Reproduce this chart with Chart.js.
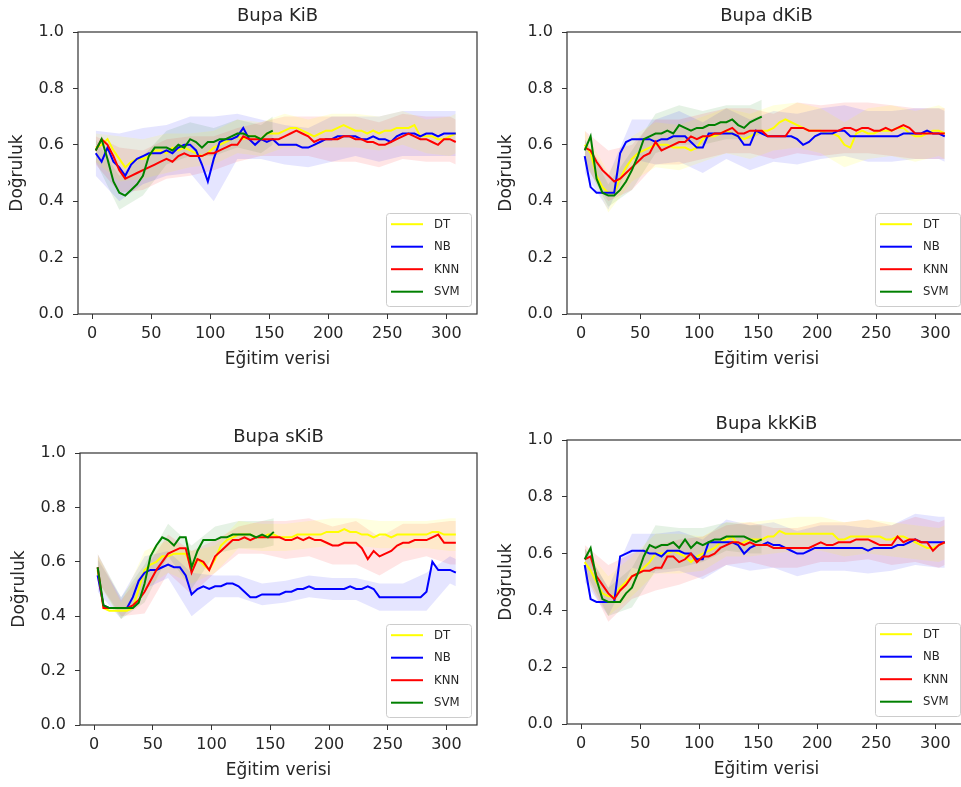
<!DOCTYPE html>
<html>
<head>
<meta charset="utf-8">
<script src="https://cdn.jsdelivr.net/npm/chart.js@4.4.1/dist/chart.umd.min.js"></script>
<style>
  body { margin: 0; background: #fff; width: 961px; height: 787px; overflow: hidden; position: relative; }
  canvas { position: absolute; }
</style>
</head>
<body>
<canvas id="c0"></canvas>
<canvas id="c1"></canvas>
<canvas id="c2"></canvas>
<canvas id="c3"></canvas>
<script>
/* ── Data ─────────────────────────────────────────── */
const xVals = [3, 8, 13, 18, 23, 28, 33, 38, 43, 48,
  53, 58, 63, 68, 73, 78, 83, 88, 93, 98,
  103, 108, 113, 118, 123, 128, 133, 138, 143, 148,
  153, 158, 163, 168, 173, 178, 183, 188, 193, 198,
  203, 208, 213, 218, 223, 228, 233, 238, 243, 248,
  253, 258, 263, 268, 273, 278, 283, 288, 293, 298,
  303, 308];
const seriesNames = ['DT', 'NB', 'KNN', 'SVM'];
const xTicks = [0, 50, 100, 150, 200, 250, 300];
const yTicks = [0, 0.2, 0.4, 0.6, 0.8, 1.0];

// Bupa KiB
const kibDT = [0.59, 0.60, 0.62, 0.58, 0.55, 0.52, 0.54, 0.55, 0.55, 0.56,
  0.58, 0.58, 0.57, 0.59, 0.58, 0.59, 0.58, 0.57, 0.56, 0.57,
  0.59, 0.60, 0.61, 0.62, 0.63, 0.62, 0.63, 0.63, 0.62, 0.64,
  0.64, 0.64, 0.65, 0.66, 0.66, 0.65, 0.64, 0.63, 0.64, 0.65,
  0.65, 0.66, 0.67, 0.66, 0.65, 0.65, 0.64, 0.65, 0.64, 0.65,
  0.65, 0.66, 0.66, 0.66, 0.67, 0.63, 0.63, 0.63, 0.62, 0.62,
  0.63, 0.64];
const kibNB = [0.57, 0.54, 0.59, 0.54, 0.52, 0.49, 0.53, 0.55, 0.56, 0.57,
  0.57, 0.57, 0.58, 0.57, 0.59, 0.60, 0.60, 0.58, 0.53, 0.47,
  0.55, 0.61, 0.62, 0.62, 0.63, 0.66, 0.62, 0.60, 0.62, 0.61,
  0.62, 0.60, 0.60, 0.60, 0.60, 0.59, 0.59, 0.60, 0.61, 0.62,
  0.62, 0.63, 0.63, 0.63, 0.63, 0.62, 0.62, 0.63, 0.62, 0.62,
  0.61, 0.63, 0.64, 0.64, 0.64, 0.63, 0.64, 0.64, 0.63, 0.64,
  0.64, 0.64];
const kibKNN = [0.58, 0.62, 0.60, 0.56, 0.51, 0.48, 0.49, 0.50, 0.51, 0.52,
  0.53, 0.54, 0.55, 0.54, 0.56, 0.57, 0.56, 0.56, 0.56, 0.57,
  0.57, 0.58, 0.59, 0.60, 0.60, 0.63, 0.62, 0.62, 0.62, 0.62,
  0.62, 0.62, 0.63, 0.64, 0.65, 0.64, 0.63, 0.61, 0.62, 0.62,
  0.62, 0.62, 0.63, 0.63, 0.62, 0.62, 0.61, 0.61, 0.60, 0.60,
  0.61, 0.62, 0.63, 0.64, 0.63, 0.62, 0.62, 0.61, 0.60, 0.62,
  0.62, 0.61];
const kibSVM = [0.58, 0.62, 0.55, 0.47, 0.43, 0.42, 0.44, 0.46, 0.49, 0.56,
  0.59, 0.59, 0.59, 0.58, 0.60, 0.59, 0.62, 0.61, 0.59, 0.61,
  0.61, 0.62, 0.62, 0.63, 0.64, 0.64, 0.63, 0.63, 0.62, 0.64,
  0.65];
const kibStdDT = [0.05, 0.08, 0.07, 0.07, 0.06, 0.06, 0.06, 0.06, 0.06, 0.05, 0.06, 0.06, 0.06, 0.06, 0.06, 0.07, 0.07];
const kibStdNB = [0.08, 0.12, 0.10, 0.09, 0.10, 0.15, 0.08, 0.07, 0.07, 0.07, 0.08, 0.07, 0.08, 0.08, 0.08, 0.08, 0.08];
const kibStdKNN = [0.05, 0.08, 0.07, 0.07, 0.07, 0.06, 0.06, 0.06, 0.07, 0.07, 0.08, 0.08, 0.08, 0.08, 0.08, 0.08, 0.08];
const kibStdSVM = [0.04, 0.06, 0.07, 0.06, 0.06, 0.05, 0.05, 0.05, 0.05];

// Bupa dKiB
const dkibDT = [0.60, 0.57, 0.49, 0.45, 0.43, 0.43, 0.48, 0.52, 0.55, 0.57,
  0.58, 0.59, 0.60, 0.60, 0.60, 0.59, 0.59, 0.59, 0.58, 0.59,
  0.62, 0.63, 0.63, 0.64, 0.65, 0.64, 0.63, 0.62, 0.63, 0.64,
  0.65, 0.65, 0.66, 0.68, 0.69, 0.68, 0.67, 0.66, 0.65, 0.65,
  0.65, 0.64, 0.64, 0.63, 0.60, 0.59, 0.64, 0.65, 0.64, 0.64,
  0.65, 0.65, 0.65, 0.66, 0.66, 0.64, 0.63, 0.63, 0.64, 0.65,
  0.65, 0.64];
const dkibNB = [0.56, 0.45, 0.43, 0.43, 0.43, 0.43, 0.57, 0.61, 0.62, 0.62,
  0.62, 0.62, 0.61, 0.62, 0.62, 0.63, 0.63, 0.63, 0.61, 0.59,
  0.59, 0.64, 0.64, 0.64, 0.64, 0.64, 0.63, 0.60, 0.60, 0.65,
  0.64, 0.63, 0.63, 0.63, 0.63, 0.63, 0.62, 0.60, 0.61, 0.63,
  0.64, 0.64, 0.64, 0.65, 0.65, 0.63, 0.63, 0.63, 0.63, 0.63,
  0.63, 0.63, 0.63, 0.63, 0.64, 0.64, 0.64, 0.64, 0.65, 0.64,
  0.64, 0.63];
const dkibKNN = [0.59, 0.58, 0.54, 0.51, 0.49, 0.47, 0.48, 0.50, 0.52, 0.54,
  0.56, 0.57, 0.61, 0.58, 0.59, 0.60, 0.61, 0.61, 0.63, 0.62,
  0.63, 0.63, 0.64, 0.64, 0.65, 0.66, 0.64, 0.64, 0.65, 0.65,
  0.65, 0.63, 0.63, 0.63, 0.63, 0.66, 0.66, 0.66, 0.65, 0.65,
  0.65, 0.65, 0.65, 0.65, 0.66, 0.66, 0.65, 0.66, 0.66, 0.65,
  0.65, 0.66, 0.65, 0.66, 0.67, 0.66, 0.64, 0.64, 0.64, 0.64,
  0.64, 0.64];
const dkibSVM = [0.58, 0.63, 0.48, 0.43, 0.42, 0.42, 0.44, 0.47, 0.51, 0.56,
  0.62, 0.63, 0.64, 0.64, 0.65, 0.64, 0.67, 0.66, 0.65, 0.66,
  0.66, 0.67, 0.67, 0.68, 0.68, 0.69, 0.67, 0.66, 0.68, 0.69,
  0.70];
const dkibStdDT = [0.05, 0.07, 0.08, 0.08, 0.08, 0.08, 0.08, 0.08, 0.08, 0.08, 0.08, 0.08, 0.09, 0.09, 0.09, 0.09, 0.09];
const dkibStdNB = [0.06, 0.06, 0.07, 0.08, 0.09, 0.09, 0.09, 0.09, 0.09, 0.09, 0.09, 0.09, 0.09, 0.09, 0.09, 0.09, 0.09];
const dkibStdKNN = [0.06, 0.09, 0.08, 0.08, 0.08, 0.08, 0.08, 0.08, 0.08, 0.09, 0.09, 0.09, 0.09, 0.09, 0.09, 0.09, 0.09];
const dkibStdSVM = [0.04, 0.04, 0.07, 0.07, 0.07, 0.06, 0.06, 0.06, 0.06];

// Bupa sKiB
const skibDT = [0.57, 0.43, 0.42, 0.42, 0.42, 0.42, 0.43, 0.50, 0.57, 0.59,
  0.60, 0.62, 0.62, 0.63, 0.63, 0.63, 0.58, 0.61, 0.59, 0.57,
  0.61, 0.66, 0.68, 0.69, 0.70, 0.70, 0.70, 0.69, 0.69, 0.70,
  0.70, 0.69, 0.69, 0.69, 0.70, 0.70, 0.70, 0.70, 0.70, 0.71,
  0.71, 0.71, 0.72, 0.71, 0.71, 0.70, 0.70, 0.69, 0.70, 0.70,
  0.69, 0.70, 0.70, 0.70, 0.70, 0.70, 0.70, 0.71, 0.71, 0.70,
  0.70, 0.70];
const skibNB = [0.55, 0.44, 0.43, 0.43, 0.43, 0.43, 0.47, 0.53, 0.56, 0.57,
  0.57, 0.58, 0.59, 0.58, 0.58, 0.55, 0.48, 0.50, 0.51, 0.50,
  0.51, 0.51, 0.52, 0.52, 0.51, 0.49, 0.47, 0.47, 0.48, 0.48,
  0.48, 0.48, 0.49, 0.49, 0.50, 0.50, 0.51, 0.50, 0.50, 0.50,
  0.50, 0.50, 0.50, 0.51, 0.50, 0.50, 0.51, 0.50, 0.47, 0.47,
  0.47, 0.47, 0.47, 0.47, 0.47, 0.47, 0.49, 0.60, 0.57, 0.57,
  0.57, 0.56];
const skibKNN = [0.58, 0.43, 0.43, 0.43, 0.43, 0.43, 0.44, 0.46, 0.49, 0.53,
  0.57, 0.60, 0.63, 0.64, 0.65, 0.65, 0.56, 0.61, 0.60, 0.57,
  0.62, 0.64, 0.66, 0.68, 0.68, 0.69, 0.68, 0.69, 0.69, 0.69,
  0.69, 0.69, 0.68, 0.68, 0.69, 0.68, 0.69, 0.68, 0.68, 0.67,
  0.66, 0.66, 0.67, 0.67, 0.67, 0.65, 0.61, 0.64, 0.62, 0.63,
  0.64, 0.66, 0.67, 0.67, 0.68, 0.68, 0.68, 0.69, 0.70, 0.67,
  0.67, 0.67];
const skibSVM = [0.58, 0.44, 0.43, 0.43, 0.43, 0.43, 0.43, 0.45, 0.52, 0.62,
  0.66, 0.69, 0.68, 0.66, 0.69, 0.69, 0.58, 0.64, 0.68, 0.68,
  0.68, 0.69, 0.69, 0.70, 0.70, 0.70, 0.70, 0.69, 0.70, 0.69,
  0.71];
const skibStdDT = [0.05, 0.03, 0.07, 0.06, 0.06, 0.05, 0.05, 0.05, 0.05, 0.05, 0.05, 0.05, 0.05, 0.05, 0.05, 0.06, 0.06];
const skibStdNB = [0.06, 0.04, 0.06, 0.05, 0.08, 0.04, 0.04, 0.04, 0.04, 0.04, 0.04, 0.04, 0.05, 0.05, 0.07, 0.05, 0.05];
const skibStdKNN = [0.05, 0.03, 0.08, 0.07, 0.08, 0.06, 0.05, 0.06, 0.07, 0.07, 0.07, 0.08, 0.07, 0.07, 0.06, 0.08, 0.08];
const skibStdSVM = [0.05, 0.04, 0.07, 0.06, 0.08, 0.05, 0.05, 0.05, 0.05];

// Bupa kkKiB
const kkkibDT = [0.57, 0.54, 0.50, 0.46, 0.45, 0.45, 0.48, 0.50, 0.52, 0.53,
  0.55, 0.57, 0.60, 0.60, 0.60, 0.61, 0.60, 0.59, 0.57, 0.59,
  0.60, 0.61, 0.62, 0.64, 0.65, 0.66, 0.63, 0.64, 0.65, 0.65,
  0.65, 0.66, 0.66, 0.68, 0.67, 0.67, 0.67, 0.67, 0.67, 0.67,
  0.67, 0.67, 0.67, 0.65, 0.65, 0.66, 0.66, 0.66, 0.66, 0.66,
  0.66, 0.65, 0.65, 0.66, 0.66, 0.65, 0.64, 0.63, 0.62, 0.62,
  0.63, 0.64];
const kkkibNB = [0.56, 0.44, 0.43, 0.43, 0.43, 0.43, 0.59, 0.60, 0.61, 0.61,
  0.61, 0.60, 0.60, 0.59, 0.61, 0.61, 0.61, 0.60, 0.60, 0.58,
  0.58, 0.64, 0.64, 0.64, 0.64, 0.64, 0.63, 0.60, 0.62, 0.63,
  0.63, 0.64, 0.63, 0.63, 0.62, 0.61, 0.60, 0.60, 0.61, 0.62,
  0.62, 0.62, 0.62, 0.62, 0.62, 0.62, 0.62, 0.62, 0.61, 0.62,
  0.62, 0.62, 0.62, 0.63, 0.63, 0.64, 0.65, 0.64, 0.64, 0.64,
  0.64, 0.64];
const kkkibKNN = [0.58, 0.59, 0.52, 0.49, 0.46, 0.44, 0.47, 0.49, 0.52, 0.53,
  0.54, 0.54, 0.55, 0.55, 0.59, 0.59, 0.57, 0.58, 0.60, 0.57,
  0.59, 0.59, 0.60, 0.62, 0.63, 0.64, 0.64, 0.63, 0.64, 0.63,
  0.63, 0.63, 0.62, 0.62, 0.62, 0.62, 0.62, 0.62, 0.62, 0.63,
  0.64, 0.63, 0.63, 0.64, 0.64, 0.64, 0.65, 0.65, 0.65, 0.64,
  0.63, 0.63, 0.63, 0.66, 0.64, 0.65, 0.65, 0.64, 0.64, 0.61,
  0.63, 0.64];
const kkkibSVM = [0.58, 0.62, 0.51, 0.44, 0.43, 0.43, 0.43, 0.46, 0.48, 0.53,
  0.59, 0.63, 0.62, 0.63, 0.63, 0.64, 0.62, 0.65, 0.62, 0.64,
  0.63, 0.64, 0.65, 0.65, 0.66, 0.66, 0.66, 0.66, 0.65, 0.64,
  0.65];
const kkkibStdDT = [0.05, 0.07, 0.07, 0.07, 0.07, 0.06, 0.06, 0.06, 0.06, 0.06, 0.06, 0.06, 0.06, 0.06, 0.06, 0.06, 0.06];
const kkkibStdNB = [0.06, 0.05, 0.06, 0.07, 0.07, 0.07, 0.08, 0.08, 0.08, 0.08, 0.08, 0.08, 0.08, 0.08, 0.09, 0.09, 0.09];
const kkkibStdKNN = [0.05, 0.10, 0.08, 0.08, 0.08, 0.07, 0.07, 0.07, 0.07, 0.07, 0.07, 0.07, 0.07, 0.07, 0.08, 0.08, 0.08];
const kkkibStdSVM = [0.04, 0.05, 0.07, 0.08, 0.07, 0.06, 0.05, 0.05, 0.05];

/* ── Style / layout ───────────────────────────────── */
const LINE_COLORS = ['#ffff00', '#0000ff', '#ff0000', '#008000'];
const BAND_COLORS = ['rgba(255,255,0,0.12)', 'rgba(0,0,255,0.1)', 'rgba(255,0,0,0.1)', 'rgba(0,128,0,0.1)'];
const FONT = '"DejaVu Sans", sans-serif';
const TEXT = '#262626';
const PAD_L = 75, PAD_T = 32, PAD_R = 12, PAD_B = 60;

// plot box in page pixels: [left, top, right, bottom]
const panels = [
  { id: 'c0', title: 'Bupa KiB', box: [78, 32, 477, 314],
    series: [kibDT, kibNB, kibKNN, kibSVM], std: [kibStdDT, kibStdNB, kibStdKNN, kibStdSVM] },
  { id: 'c1', title: 'Bupa dKiB', box: [567, 32, 966, 314],
    series: [dkibDT, dkibNB, dkibKNN, dkibSVM], std: [dkibStdDT, dkibStdNB, dkibStdKNN, dkibStdSVM] },
  { id: 'c2', title: 'Bupa sKiB', box: [80, 453, 477, 725],
    series: [skibDT, skibNB, skibKNN, skibSVM], std: [skibStdDT, skibStdNB, skibStdKNN, skibStdSVM] },
  { id: 'c3', title: 'Bupa kkKiB', box: [567, 440, 966, 724],
    series: [kkkibDT, kkkibNB, kkkibKNN, kkkibSVM], std: [kkkibStdDT, kkkibStdNB, kkkibStdKNN, kkkibStdSVM] },
];

// every 4th point (plus the last one) carries a band width
function bandIdx(n) {
  const idx = [];
  for (let i = 0; i < n; i += 4) idx.push(i);
  if (idx[idx.length - 1] !== n - 1) idx.push(n - 1);
  return idx;
}

function buildDatasets(p) {
  const ds = [];
  p.series.forEach((vals, s) => {
    const idx = bandIdx(vals.length);
    const sd = p.std[s];
    ds.push({
      data: idx.map((i, k) => ({ x: xVals[i], y: vals[i] - sd[k] })),
      borderWidth: 0, borderColor: 'rgba(0,0,0,0)', pointRadius: 0, fill: false, order: 10,
    });
    ds.push({
      data: idx.map((i, k) => ({ x: xVals[i], y: vals[i] + sd[k] })),
      borderWidth: 0, borderColor: 'rgba(0,0,0,0)', pointRadius: 0,
      fill: '-1', backgroundColor: BAND_COLORS[s], order: 10,
    });
  });
  p.series.forEach((vals, s) => {
    ds.push({
      label: seriesNames[s],
      data: vals.map((v, i) => ({ x: xVals[i], y: v })),
      borderColor: LINE_COLORS[s], borderWidth: 2, pointRadius: 0, fill: false,
      order: 4 - s,
    });
  });
  return ds;
}

/* ── Frame, titles, legend ────────────────────────── */
const decoPlugin = {
  id: 'deco',
  afterDraw(chart, args, o) {
    const { ctx, chartArea: a } = chart;
    ctx.save();
    ctx.strokeStyle = '#333';
    ctx.lineWidth = 1.2;
    ctx.strokeRect(a.left, a.top, a.right - a.left, a.bottom - a.top);

    ctx.fillStyle = TEXT;
    ctx.textAlign = 'center';
    ctx.textBaseline = 'middle';
    ctx.font = '18px ' + FONT;
    ctx.fillText(o.title, (a.left + a.right) / 2, a.top - 16);
    ctx.font = '17px ' + FONT;
    ctx.fillText('Eğitim verisi', (a.left + a.right) / 2, a.bottom + 46);
    ctx.save();
    ctx.translate(a.left - 60, (a.top + a.bottom) / 2);
    ctx.rotate(-Math.PI / 2);
    ctx.fillText('Doğruluk', 0, 0);
    ctx.restore();

    // legend, lower right
    const lw = 85, lh = 93;
    const bx = a.right - 6 - lw, by = a.bottom - 8 - lh;
    ctx.fillStyle = 'rgba(255,255,255,0.8)';
    ctx.strokeStyle = '#cccccc';
    ctx.lineWidth = 1;
    ctx.beginPath();
    ctx.roundRect(bx + 0.5, by + 0.5, lw, lh, 3);
    ctx.fill();
    ctx.stroke();
    ctx.font = '13px "DejaVu Sans Condensed", ' + FONT;
    ctx.textAlign = 'left';
    seriesNames.forEach((n, k) => {
      const y = by + lh - 14.3 - (3 - k) * 22.5;
      ctx.strokeStyle = LINE_COLORS[k];
      ctx.lineWidth = 2;
      ctx.beginPath();
      ctx.moveTo(bx + 5, y);
      ctx.lineTo(bx + 37, y);
      ctx.stroke();
      ctx.fillStyle = TEXT;
      ctx.fillText(n, bx + 48, y);
    });
    ctx.restore();
  },
};

/* ── Charts ───────────────────────────────────────── */
panels.forEach((p) => {
  const [L, T, R, B] = p.box;
  const canvas = document.getElementById(p.id);
  canvas.width = (R - L) + PAD_L + PAD_R;
  canvas.height = (B - T) + PAD_T + PAD_B;
  canvas.style.left = (L - PAD_L) + 'px';
  canvas.style.top = (T - PAD_T) + 'px';

  new Chart(canvas.getContext('2d'), {
    type: 'line',
    data: { datasets: buildDatasets(p) },
    plugins: [decoPlugin],
    options: {
      responsive: false,
      animation: false,
      layout: { padding: { left: 0, top: PAD_T, right: PAD_R, bottom: 0 } },
      plugins: {
        legend: { display: false },
        tooltip: { enabled: false },
        deco: { title: p.title },
      },
      scales: {
        x: {
          type: 'linear', min: -12, max: 326,
          afterBuildTicks: (s) => { s.ticks = xTicks.map((v) => ({ value: v })); },
          afterFit: (s) => { s.height = PAD_B; },
          grid: { drawOnChartArea: false, drawTicks: true, tickLength: 5, color: '#333' },
          border: { display: false },
          ticks: { padding: 5, color: TEXT, font: { family: 'DejaVu Sans', size: 16 },
            maxRotation: 0, autoSkip: false, callback: (v) => String(v) },
        },
        y: {
          type: 'linear', min: 0, max: 1,
          afterBuildTicks: (s) => { s.ticks = yTicks.map((v) => ({ value: v })); },
          afterFit: (s) => { s.width = PAD_L; },
          grid: { drawOnChartArea: false, drawTicks: true, tickLength: 5, color: '#333' },
          border: { display: false },
          ticks: { padding: 9, color: TEXT, font: { family: 'DejaVu Sans', size: 16 },
            autoSkip: false, callback: (v) => v.toFixed(1) },
        },
      },
    },
  });
});
</script>
</body>
</html>
